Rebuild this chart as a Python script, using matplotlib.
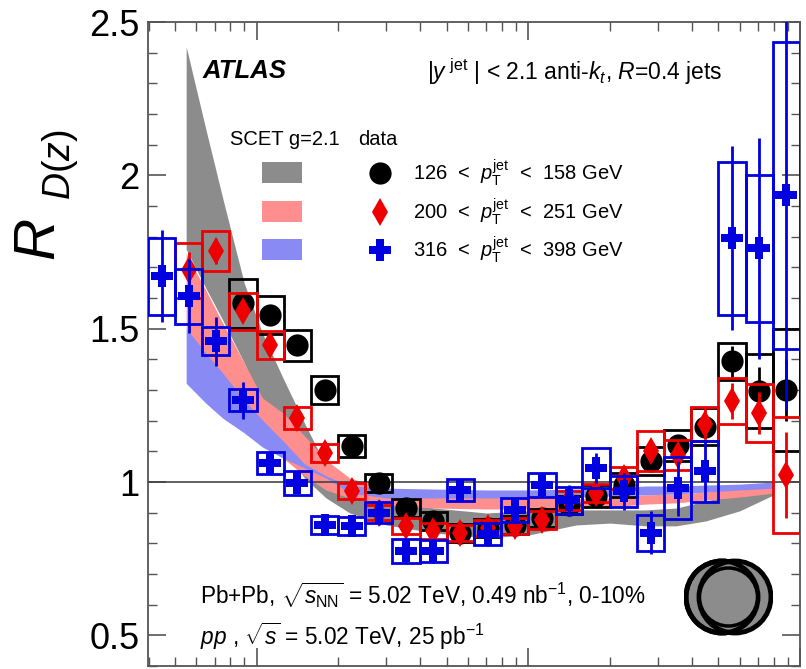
import matplotlib
matplotlib.use("Agg")
import matplotlib.pyplot as plt
from matplotlib.patches import Rectangle, Circle
from matplotlib.ticker import MultipleLocator, LogLocator, NullFormatter
import numpy as np

plt.rcParams['font.family'] = ['Liberation Sans', 'DejaVu Sans']
plt.rcParams['mathtext.fontset'] = 'custom'
plt.rcParams['mathtext.rm'] = 'Liberation Sans'
plt.rcParams['mathtext.it'] = 'Liberation Sans:italic'
plt.rcParams['mathtext.bf'] = 'Liberation Sans:bold'

# z bin edges (log bins, 10 per decade)
z_edges = [0.00398, 0.00501, 0.00631, 0.00794, 0.0100, 0.0126, 0.0158, 0.0200,
           0.0251, 0.0316, 0.0398, 0.0501, 0.0631, 0.0794, 0.100, 0.126,
           0.158, 0.200, 0.251, 0.316, 0.398, 0.501, 0.631, 0.794, 1.0]

# 126 < pT < 158 GeV (starts at bin 3)
blk_first = 3
blk_val = [1.583, 1.544, 1.446, 1.30, 1.117, 0.997, 0.915, 0.873, 0.834, 0.85, 0.86,
           0.883, 0.925, 0.954, 0.99, 1.068, 1.12, 1.18, 1.394, 1.296, 1.30]
blk_sys = [0.08, 0.063, 0.05, 0.045, 0.035, 0.03, 0.03, 0.03, 0.03, 0.03, 0.03,
           0.03, 0.03, 0.035, 0.04, 0.045, 0.05, 0.06, 0.06, 0.12, 0.2]
blk_stat = [0.03, 0.02, 0.02, 0.02, 0.015, 0.01, 0.01, 0.01, 0.01, 0.01, 0.01,
            0.01, 0.015, 0.02, 0.02, 0.03, 0.03, 0.04, 0.05, 0.08, 0.1]

# 200 < pT < 251 GeV (starts at bin 1)
red_first = 1
red_val = [1.69, 1.752, 1.557, 1.446, 1.208, 1.094, 0.97, 0.90, 0.857, 0.84, 0.834, 0.85,
           0.857, 0.876, 0.94, 0.965, 1.013, 1.10, 1.088, 1.19, 1.264, 1.225, 1.023]
red_sys = [0.09, 0.065, 0.06, 0.045, 0.035, 0.03, 0.027, 0.025, 0.025, 0.025, 0.025, 0.025,
           0.025, 0.03, 0.03, 0.03, 0.035, 0.065, 0.05, 0.055, 0.075, 0.095, 0.19]
red_stat = [0.06, 0.04, 0.03, 0.02, 0.02, 0.015, 0.01, 0.01, 0.01, 0.01, 0.01, 0.01,
            0.01, 0.015, 0.02, 0.02, 0.03, 0.03, 0.04, 0.05, 0.06, 0.07, 0.14]

# 316 < pT < 398 GeV (starts at bin 0)
blu_first = 0
blu_val = [1.671, 1.606, 1.459, 1.267, 1.062, 0.997, 0.86, 0.857, 0.90, 0.775, 0.775, 0.974,
           0.83, 0.909, 0.99, 0.94, 1.046, 0.97, 0.834, 0.98, 1.035, 1.795, 1.762, 1.935]
blu_sys = [0.125, 0.09, 0.045, 0.035, 0.035, 0.04, 0.03, 0.03, 0.035, 0.04, 0.035, 0.035,
           0.035, 0.04, 0.04, 0.045, 0.065, 0.05, 0.06, 0.1, 0.1, 0.25, 0.24, 0.5]
blu_stat = [0.15, 0.12, 0.08, 0.06, 0.03, 0.03, 0.03, 0.03, 0.04, 0.04, 0.04, 0.03,
            0.04, 0.04, 0.04, 0.05, 0.05, 0.06, 0.07, 0.09, 0.1, 0.3, 0.36, 0.7]

# SCET g=2.1 theory bands
band_z = [0.0055, 0.0065, 0.0075, 0.009, 0.0105, 0.0125, 0.015, 0.018, 0.022, 0.03,
          0.045, 0.07, 0.1, 0.15, 0.2, 0.27, 0.35, 0.45, 0.6, 0.8]
gray_hi = [2.42, 2.15, 1.925, 1.648, 1.485, 1.339, 1.192, 1.052, 0.98, 0.948,
           0.915, 0.899, 0.906, 0.909, 0.909, 0.909, 0.915, 0.938, 0.964, 0.987]
gray_lo = [1.759, 1.632, 1.528, 1.388, 1.257, 1.111, 1.013, 0.948, 0.899, 0.86,
           0.834, 0.818, 0.827, 0.86, 0.866, 0.857, 0.857, 0.873, 0.906, 0.958]
pink_hi = [1.746, 1.625, 1.518, 1.388, 1.274, 1.225, 1.15, 1.072, 1.013, 0.98,
           0.964, 0.954, 0.948, 0.945, 0.948, 0.958, 0.961, 0.967, 0.98, 0.993]
pink_lo = [1.502, 1.404, 1.322, 1.225, 1.143, 1.078, 1.02, 0.974, 0.948, 0.925,
           0.915, 0.912, 0.912, 0.915, 0.919, 0.928, 0.932, 0.941, 0.951, 0.964]
blue_hi = [1.502, 1.42, 1.355, 1.267, 1.202, 1.134, 1.059, 1.02, 0.987, 0.98,
           0.977, 0.974, 0.974, 0.977, 0.98, 0.987, 0.987, 0.99, 0.993, 1.0]
blue_lo = [1.322, 1.257, 1.208, 1.16, 1.114, 1.078, 1.046, 1.013, 0.964, 0.948,
           0.948, 0.948, 0.948, 0.951, 0.954, 0.958, 0.961, 0.967, 0.974, 0.98]

labels = ["126  <  $p_{\\rm T}^{\\rm jet}$  <  158 GeV",
          "200  <  $p_{\\rm T}^{\\rm jet}$  <  251 GeV",
          "316  <  $p_{\\rm T}^{\\rm jet}$  <  398 GeV"]

GRAY = "#8c8c8c"
PINK = "#ff8e8e"
LAV = "#8a8af5"
RED = "#ee0000"
BLUE = "#0000e0"

fig = plt.figure(figsize=(8.06, 6.69), dpi=100)
ax = fig.add_axes([148 / 806, 3 / 669, 652 / 806, 644 / 669])

ax.fill_between(band_z, gray_lo, gray_hi, color=GRAY, lw=0, zorder=1)
ax.fill_between(band_z, pink_lo, pink_hi, color=PINK, lw=0, zorder=2)
ax.fill_between(band_z, blue_lo, blue_hi, color=LAV, lw=0, zorder=3)
ax.axhline(1.0, color="#444444", lw=1.2, zorder=4)

edges = np.array(z_edges)


def draw_series(first, val, sys, stat, color, marker, ms, z):
    n = len(val)
    lo = edges[first:first + n]
    hi = edges[first + 1:first + n + 1]
    cen = np.sqrt(lo * hi)
    val = np.array(val)
    sys = np.array(sys)
    ax.bar(lo, 2 * sys, width=hi - lo, bottom=val - sys, align='edge',
           fill=False, edgecolor=color, linewidth=2.0, zorder=z)
    ax.errorbar(cen, val, yerr=stat, fmt='none', ecolor=color, elinewidth=2,
                capsize=0, zorder=z + 0.1)
    ax.plot(cen, val, linestyle='none', marker=marker, color=color,
            markersize=ms, markeredgewidth=0, zorder=z + 0.2)


draw_series(blk_first, blk_val, blk_sys, blk_stat, "black", "o", 16, 5)
draw_series(red_first, red_val, red_sys, red_stat, RED, "d", 14, 6)
draw_series(blu_first, blu_val, blu_sys, blu_stat, BLUE, "P", 16, 7)

ax.set_xscale("log")
ax.set_xlim(z_edges[0], z_edges[-1])
ax.set_ylim(0.4, 2.5)
ax.yaxis.set_major_locator(MultipleLocator(0.5))
ax.yaxis.set_minor_locator(MultipleLocator(0.1))
ax.xaxis.set_minor_locator(LogLocator(base=10, subs=np.arange(2, 10)))
ax.xaxis.set_minor_formatter(NullFormatter())
ax.tick_params(which='both', direction='in', top=True, right=True,
               labelbottom=False, color="#555555")
ax.tick_params(which='major', length=13, width=1.2, labelsize=26, pad=6)
ax.tick_params(which='minor', length=6.5, width=1.0)
ax.set_yticks([0.5, 1, 1.5, 2, 2.5])
ax.set_yticklabels(["0.5", "1", "1.5", "2", "2.5"])
for s in ax.spines.values():
    s.set_color("#555555")
    s.set_linewidth(1.3)

# y axis title R_D(z)
fig.text(40 / 806, 1 - 240 / 669, "$R$", rotation=90, ha='center',
         va='center', fontsize=42)
fig.text(60 / 806, 1 - 165 / 669, "$D(z)$", rotation=90, ha='center',
         va='center', fontsize=27)

tr = ax.transAxes
ax.text(0.083, 0.924, "ATLAS", transform=tr, fontsize=18.5, fontweight='bold',
        fontstyle='italic', va='center')
ax.text(0.428, 0.9224, "|$y^{\\ \\rm jet}$ | < 2.1 anti-$k_{t}$, $R$=0.4 jets",
        transform=tr, fontsize=16.5, va='center')
ax.text(0.1258, 0.8168, "SCET g=2.1", transform=tr, fontsize=14.5, va='center')
ax.text(0.322, 0.8168, "data", transform=tr, fontsize=14.5, va='center')

sw_y = [0.75, 0.6894, 0.6304]
sw_c = [GRAY, PINK, LAV]
mk_y = [0.7655, 0.705, 0.646]
mk = [("o", "black", 16), ("d", RED, 14), ("P", BLUE, 16)]
for i in range(3):
    ax.add_patch(Rectangle((0.1748, sw_y[i]), 0.0614, 0.033, transform=tr,
                           facecolor=sw_c[i], edgecolor='none', zorder=8))
    ax.plot([0.3558], [mk_y[i]], transform=tr, marker=mk[i][0], color=mk[i][1],
            markersize=mk[i][2], markeredgewidth=0, linestyle='none', zorder=8)
    ax.text(0.4064, mk_y[i], labels[i], transform=tr, fontsize=14.5, va='center')

ax.text(0.0798, 0.110, "Pb+Pb, $\\sqrt{s_{\\rm NN}}$ = 5.02 TeV, 0.49 nb$^{-1}$, 0-10%",
        transform=tr, fontsize=16.3, va='center')
ax.text(0.0798, 0.0466, "$pp$ , $\\sqrt{s}$ = 5.02 TeV, 25 pb$^{-1}$",
        transform=tr, fontsize=16.3, va='center')

# centrality icon
ic = fig.add_axes([684 / 806, 1 - 636 / 669, 89 / 806, 78 / 669])
ic.set_xlim(0, 89)
ic.set_ylim(0, 78)
ic.set_aspect('equal')
ic.axis('off')
ic.add_patch(Circle((38, 39), 36, facecolor=GRAY, edgecolor='black', lw=3.5))
ic.add_patch(Circle((51, 39), 36, facecolor=GRAY, edgecolor='black', lw=3.5))
ic.add_patch(Circle((38, 39), 36, facecolor='none', edgecolor='black', lw=3.5))
ic.add_patch(Circle((44.5, 39), 29, facecolor=GRAY, edgecolor='black', lw=2.5))

fig.savefig("out.png", dpi=100)
